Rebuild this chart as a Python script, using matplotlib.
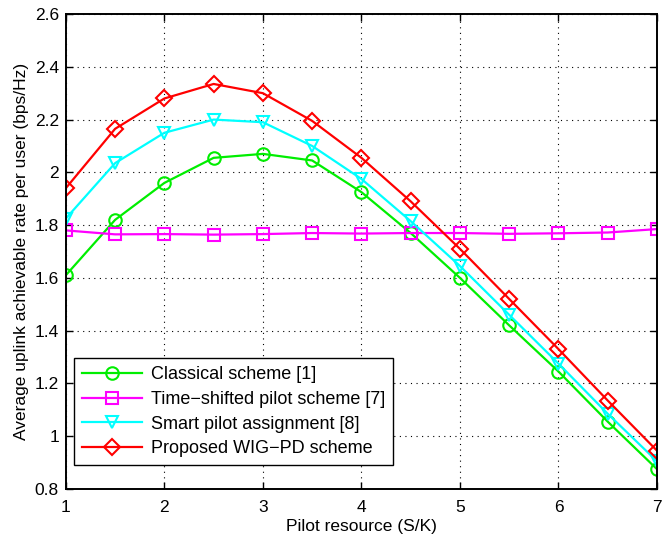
import numpy as np
import matplotlib.pyplot as plt

# pilot resource values (S/K)
x = [1, 1.5, 2, 2.5, 3, 3.5, 4, 4.5, 5, 5.5, 6, 6.5, 7]

classical = [1.61, 1.82, 1.96, 2.055, 2.07, 2.045, 1.925, 1.77, 1.60, 1.42, 1.245, 1.055, 0.875]
time_shifted = [1.78, 1.765, 1.766, 1.764, 1.766, 1.77, 1.768, 1.77, 1.77, 1.767, 1.769, 1.772, 1.785]
smart = [1.825, 2.035, 2.15, 2.20, 2.19, 2.10, 1.975, 1.815, 1.645, 1.46, 1.275, 1.085, 0.905]
proposed = [1.94, 2.165, 2.28, 2.335, 2.30, 2.195, 2.055, 1.89, 1.71, 1.52, 1.33, 1.135, 0.945]

labels = ['Classical scheme [1]', 'Time\u2212shifted pilot scheme [7]',
          'Smart pilot assignment [8]', 'Proposed WIG\u2212PD scheme']

plt.rcParams['font.family'] = ['Liberation Sans', 'DejaVu Sans']

fig = plt.figure(figsize=(6.65, 5.4), dpi=100)
ax = fig.add_axes([0.099, 0.0945, 0.889, 0.8795])

style = dict(linewidth=1.6, markersize=9, markeredgewidth=1.5, markerfacecolor='none')
ax.plot(x, classical, color='#00ee00', marker='o', label=labels[0], **style)
ax.plot(x, time_shifted, color='#ff00ff', marker='s', label=labels[1], **style)
ax.plot(x, smart, color='#00ffff', marker='v', label=labels[2], **style)
ax.plot(x, proposed, color='#ff0000', marker='D', label=labels[3], **dict(style, markersize=8))

ax.set_xlim(1, 7)
ax.set_ylim(0.8, 2.6)
ax.set_xticks(np.arange(1, 7.5, 1))
ax.set_yticks(np.arange(0.8, 2.61, 0.2))
ax.set_yticklabels(['0.8', '1', '1.2', '1.4', '1.6', '1.8', '2', '2.2', '2.4', '2.6'])
ax.tick_params(direction='in', top=True, right=True, labelsize=12.5, length=5, width=1.0)
ax.tick_params(axis='x', pad=8)
ax.tick_params(axis='y', pad=5)
ax.grid(True, linestyle=(0, (1, 4)), color='black', linewidth=0.8)
for s in ax.spines.values():
    s.set_linewidth(1.4)

ax.set_xlabel('Pilot resource (S/K)', fontsize=12.5, labelpad=3)
ax.set_ylabel('Average uplink achievable rate per user (bps/Hz)', fontsize=12.5, labelpad=4)

leg = ax.legend(loc='lower left', bbox_to_anchor=(0.0135, 0.05), fontsize=13, handlelength=3.3,
                fancybox=False, framealpha=1, edgecolor='black', borderpad=0.45,
                labelspacing=0.42, handletextpad=0.5, borderaxespad=0)
leg.get_frame().set_linewidth(1.0)

fig.savefig('out.png', dpi=100)
